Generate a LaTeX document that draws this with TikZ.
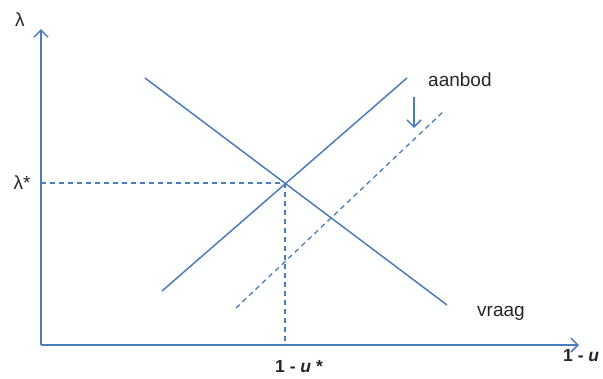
\documentclass[tikz,border=0pt]{standalone}
\usepackage{fontspec}
\setmainfont{Liberation Sans}
\usetikzlibrary{arrows.meta}
\definecolor{lineblue}{HTML}{4A7EBB}
\begin{document}
\begin{tikzpicture}[x=1pt,y=-1pt,
  ln/.style={draw=lineblue,line width=1.5pt},
  dashln/.style={draw=lineblue,line width=1.3pt,dash pattern=on 5pt off 4pt},
  axarrow/.style={-{Straight Barb[length=7pt,width=14pt,line width=1.5pt]}},
  lbl/.style={font=\fontsize{19}{21}\selectfont,text=black!85,inner sep=0pt},
  blbl/.style={font=\fontsize{17.5}{20}\selectfont\bfseries,text=black!85,inner sep=0pt}]
\useasboundingbox (0,0) rectangle (603,378);
% axes
\coordinate (O) at (41,345);
\coordinate (ytop) at (41,29);
\coordinate (xend) at (579,345);
\draw[ln,axarrow] (O) -- (ytop);
\draw[ln,axarrow] (O) -- (xend);
% equilibrium
\coordinate (E) at (285,183);
\coordinate (Ey) at (41,183);
\coordinate (Ex) at (285,345);
\draw[dashln] (Ey) -- (E);
\draw[dashln] (E) -- (Ex);
% demand
\coordinate (d1) at (145,78);
\coordinate (d2) at (447,305);
\draw[ln] (d1) -- (d2);
% supply
\coordinate (s1) at (162,291);
\coordinate (s2) at (407,78);
\draw[ln] (s1) -- (s2);
% shifted supply
\coordinate (t1) at (236,308);
\coordinate (t2) at (445,110);
\draw[dashln] (t1) -- (t2);
% shift arrow
\coordinate (a1) at (414,97);
\coordinate (a2) at (414,128);
\draw[ln,-{Straight Barb[length=7pt,width=14pt,line width=1.5pt]}] (a1) -- (a2);
% labels
\node[lbl] (lam) at (20,20) {λ};
\node[lbl] (lamstar) at (22,183) {λ*};
\node[lbl,anchor=west] (aanbod) at (428,80) {aanbod};
\node[lbl,anchor=west] (vraag) at (477,313) {vraag};
\node[blbl,anchor=west] (ustar) at (275,367) {1 - \textit{u} *};
\node[blbl,anchor=west] (uax) at (563,356) {1 - \textit{u}};
\end{tikzpicture}
\end{document}
